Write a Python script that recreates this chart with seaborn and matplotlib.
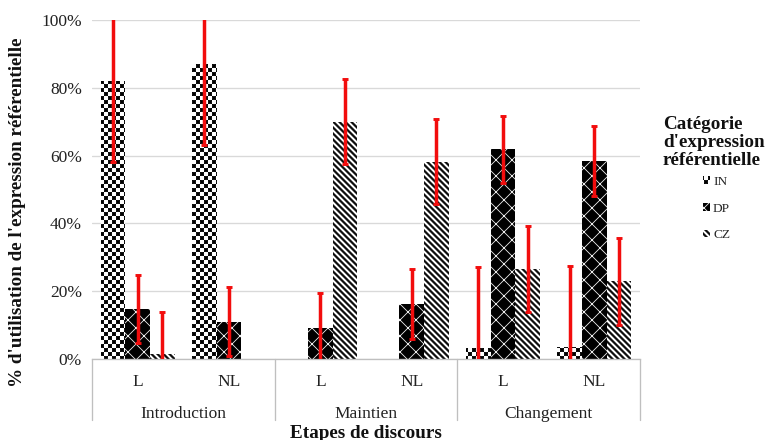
import numpy as np
import pandas as pd
import matplotlib
matplotlib.use("Agg")
import matplotlib as mpl
import matplotlib.pyplot as plt
import matplotlib.hatch as mhatch
import matplotlib.transforms as mtrans
from matplotlib.path import Path
import seaborn as sns

# ---------------- data ----------------
steps = ["Introduction", "Maintien", "Changement"]
groups = ["L", "NL"]
categories = ["IN", "DP", "CZ"]

in_vals = [82.0, 87.0, 0.0, 0.0, 3.2, 3.5]
dp_vals = [14.8, 11.0, 9.2, 16.3, 61.8, 58.5]
cz_vals = [1.5, 0.0, 70.0, 58.2, 26.5, 22.9]

in_err = [24.0, 24.0, np.nan, np.nan, 23.8, 23.8]
dp_err = [10.1, 10.2, 10.3, 10.3, 9.9, 10.3]
cz_err = [12.4, np.nan, 12.6, 12.6, 12.6, 12.8]

yticks = [0, 20, 40, 60, 80, 100]
ytick_labels = ["0%", "20%", "40%", "60%", "80%", "100%"]

ylabel = "% d'utilisation de l'expression référentielle"
xlabel = "Etapes de discours"
legend_title = "Catégorie\nd'expression\nréférentielle"


# ------------- custom hatches -------------
def _shrink():
    return mpl.rcParams['hatch.linewidth'] / 72.0 / 2.0


class CheckerHatch(mhatch.HatchPatternBase):
    """'.' -> filled checkerboard"""
    def __init__(self, hatch, density):
        c = hatch.count('.')
        self.n = 8 * c
        self.num_vertices = (self.n * self.n // 2) * 5 if c else 0

    def set_vertices_and_codes(self, vertices, codes):
        n = self.n
        s = 1.0 / n
        sh = _shrink()
        k = 0
        for i in range(n):
            for j in range(n):
                if (i + j) % 2 == 0:
                    x0, x1 = i * s + sh, (i + 1) * s - sh
                    y0, y1 = j * s + sh, (j + 1) * s - sh
                    vertices[k:k + 5] = [(x0, y0), (x1, y0), (x1, y1), (x0, y1), (x0, y0)]
                    codes[k:k + 5] = [Path.MOVETO, Path.LINETO, Path.LINETO,
                                      Path.LINETO, Path.CLOSEPOLY]
                    k += 5


class StripeHatch(mhatch.HatchPatternBase):
    """'*' -> filled diagonal stripes (top-left to bottom-right)"""
    def __init__(self, hatch, density):
        c = hatch.count('*')
        self.n = 4 * c
        self.ks = list(range(-1, 2 * self.n + 2)) if c else []
        self.num_vertices = len(self.ks) * 5

    def set_vertices_and_codes(self, vertices, codes):
        n = self.n
        sh = _shrink() * np.sqrt(2)
        w = 0.5 / n - 2 * sh
        k = 0
        for kk in self.ks:
            c = kk / n + sh
            pts = [(-0.5, c + 0.5), (1.5, c - 1.5), (1.5, c + w - 1.5),
                   (-0.5, c + w + 0.5), (-0.5, c + 0.5)]
            vertices[k:k + 5] = pts
            codes[k:k + 5] = [Path.MOVETO, Path.LINETO, Path.LINETO,
                              Path.LINETO, Path.CLOSEPOLY]
            k += 5


_new = []
for t in mhatch._hatch_types:
    if t is mhatch.SmallFilledCircles:
        _new.append(CheckerHatch)
    elif t is mhatch.Stars:
        _new.append(StripeHatch)
    else:
        _new.append(t)
mhatch._hatch_types[:] = _new

# ---------------- style ----------------
sns.set_theme(style="white")
plt.rcParams["font.family"] = ["Liberation Serif", "DejaVu Serif"]
plt.rcParams["hatch.linewidth"] = 0.6

W, H, DPI = 767, 440, 96
fig = plt.figure(figsize=(W / DPI, H / DPI), dpi=DPI)
fig.patch.set_facecolor("white")
ax_l, ax_r, ax_t, ax_b = 92, 640, 20, 359
ax = fig.add_axes([ax_l / W, 1 - ax_b / H, (ax_r - ax_l) / W, (ax_b - ax_t) / H])

slots = [f"{s}|{g}" for s in steps for g in groups]
rows = []
for cat, vals in zip(categories, [in_vals, dp_vals, cz_vals]):
    for slot, v in zip(slots, vals):
        rows.append({"slot": slot, "cat": cat, "val": v})
df = pd.DataFrame(rows)

sns.barplot(data=df, x="slot", y="val", hue="cat", order=slots,
            hue_order=categories, width=0.81, errorbar=None, legend=False,
            palette=["white", "black", "white"], linewidth=0, ax=ax,
            saturation=1)

styles = {
    "IN": dict(face="white", hatch_color="black", hatch="..."),
    "DP": dict(face="black", hatch_color="#F4F4F4", hatch="xx"),
    "CZ": dict(face="white", hatch_color="black", hatch="****"),
}
red = "#F20D0D"
errs = {"IN": in_err, "DP": dp_err, "CZ": cz_err}
vals_map = {"IN": in_vals, "DP": dp_vals, "CZ": cz_vals}
for cat, cont in zip(categories, ax.containers):
    st = styles[cat]
    for p in cont:
        p.set_facecolor(st["face"])
        p.set_edgecolor(st["hatch_color"])
        p.set_linewidth(0)
        p.set_hatch(st["hatch"])
    xs = np.array([p.get_x() + p.get_width() / 2 for p in cont])
    e = np.array(errs[cat])
    v = np.array(vals_map[cat])
    m = ~np.isnan(e)
    ax.errorbar(xs[m], v[m], yerr=e[m], fmt="none", ecolor=red,
                elinewidth=2.6, capsize=2.4, capthick=2.2, zorder=4)

ax.set_xlim(-0.5, len(slots) - 0.5)
ax.set_ylim(0, 100)
ax.set_yticks(yticks)
ax.set_yticklabels(ytick_labels)
ax.set_xticks(range(len(slots)))
ax.set_xticklabels([g for s in steps for g in groups])
ax.tick_params(axis="both", length=0, labelsize=13, colors="#222222")
ax.tick_params(axis="y", pad=7.5)
ax.tick_params(axis="x", pad=11)
ax.set_xlabel("")
ax.set_ylabel("")
ax.yaxis.grid(True, color="#D9D9D9", linewidth=1)
ax.xaxis.grid(False)
ax.set_axisbelow(True)
for side in ["left", "right", "top"]:
    ax.spines[side].set_visible(False)
ax.spines["bottom"].set_color("#BFBFBF")
ax.spines["bottom"].set_linewidth(1)

ax_h = ax_b - ax_t
blend = mtrans.blended_transform_factory(ax.transData, ax.transAxes)
for xb in np.arange(-0.5, len(slots), 2):
    ax.plot([xb, xb], [0, -61 / ax_h], transform=blend, clip_on=False,
            color="#BFBFBF", linewidth=1)
for i, s in enumerate(steps):
    ax.text(2 * i + 0.5, -(414 - ax_b) / ax_h, s, transform=blend,
            ha="center", va="center", fontsize=13, color="#222222")

ax.text(0.5, -(433 - ax_b) / ax_h, xlabel, transform=ax.transAxes,
        ha="center", va="center", fontsize=14.3, fontweight="bold",
        color="#111111")
fig.text(18 / W, 1 - 212 / H, ylabel, rotation=90, ha="center", va="center",
         fontsize=14.3, fontweight="bold", color="#111111")

fig.text(663 / W, 1 - 116 / H, legend_title, ha="left", va="top",
         fontsize=14.3, fontweight="bold", linespacing=1.07, color="#111111")
fig.legend(ax.containers, categories, loc="upper left",
           bbox_to_anchor=(703 / W, 1 - 176 / H), frameon=False, fontsize=10,
           handlelength=0.5, handleheight=0.5, handletextpad=0.25,
           labelspacing=1.1, borderpad=0, borderaxespad=0)

fig.savefig("out.png", dpi=DPI, facecolor="white")
